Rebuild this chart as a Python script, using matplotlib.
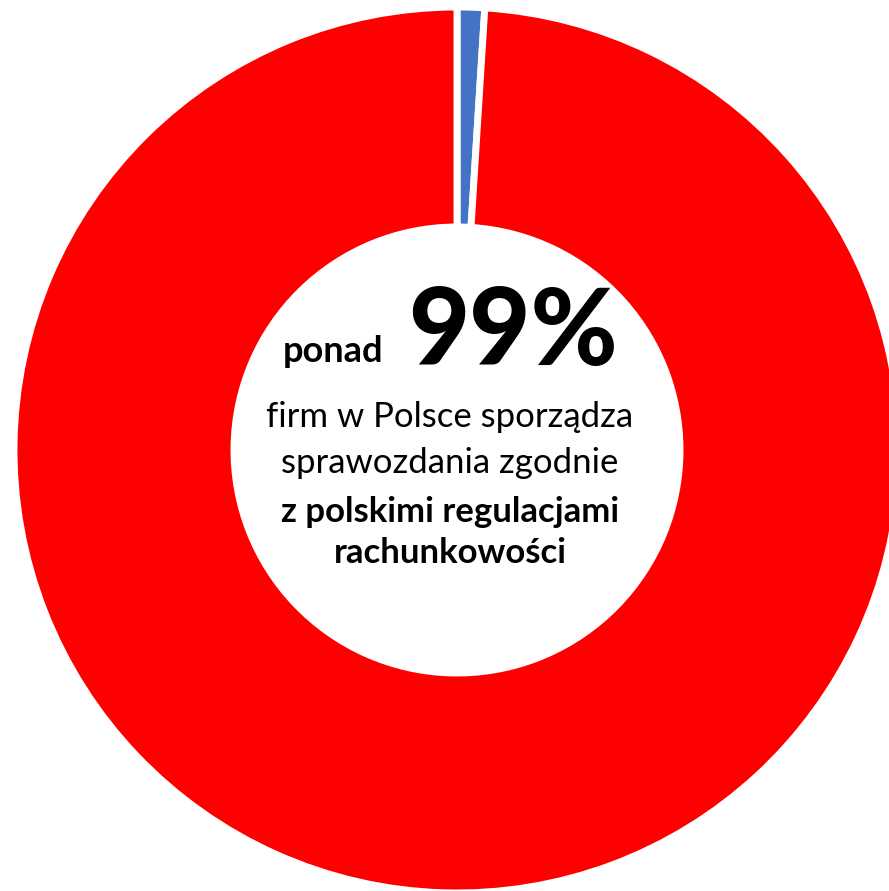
import matplotlib
matplotlib.use('Agg')
import matplotlib.pyplot as plt

# udział firm: MSSF vs polskie regulacje rachunkowości
labels = ['MSSF', 'polskie regulacje']
shares = [1, 99]
colors = ['#4472C4', '#FF0000']

W, H = 889, 891
cx, cy = 457, 450  # środek pierścienia w pikselach


def fig_pos(x, y):
    return x / W, 1 - y / H


fig = plt.figure(figsize=(W / 100, H / 100), dpi=100)
ax = fig.add_axes([0, 0, 1, 1])
ax.pie(shares, colors=colors, startangle=90, counterclock=False,
       radius=443, wedgeprops=dict(width=220, edgecolor='white', linewidth=5))
ax.set_xlim(-cx, W - cx)
ax.set_ylim(-(H - cy), cy)
ax.set_aspect('auto')
ax.axis('off')

font = 'Lato'
fig.text(*fig_pos(333, 362), 'ponad', ha='center', va='baseline',
         fontsize=26, fontweight='bold', family=font)
fig.text(*fig_pos(513, 365), '99%', ha='center', va='baseline',
         fontsize=76, fontweight='black', family=font)

lines = [('firm w Polsce sporządza', 'normal', 427),
         ('sprawozdania zgodnie', 'normal', 473),
         ('z polskimi regulacjami', 'bold', 522),
         ('rachunkowości', 'bold', 563)]
for txt, weight, y in lines:
    fig.text(*fig_pos(450, y), txt, ha='center', va='baseline',
             fontsize=25, fontweight=weight, family=font)

fig.savefig('out.png', dpi=100)
